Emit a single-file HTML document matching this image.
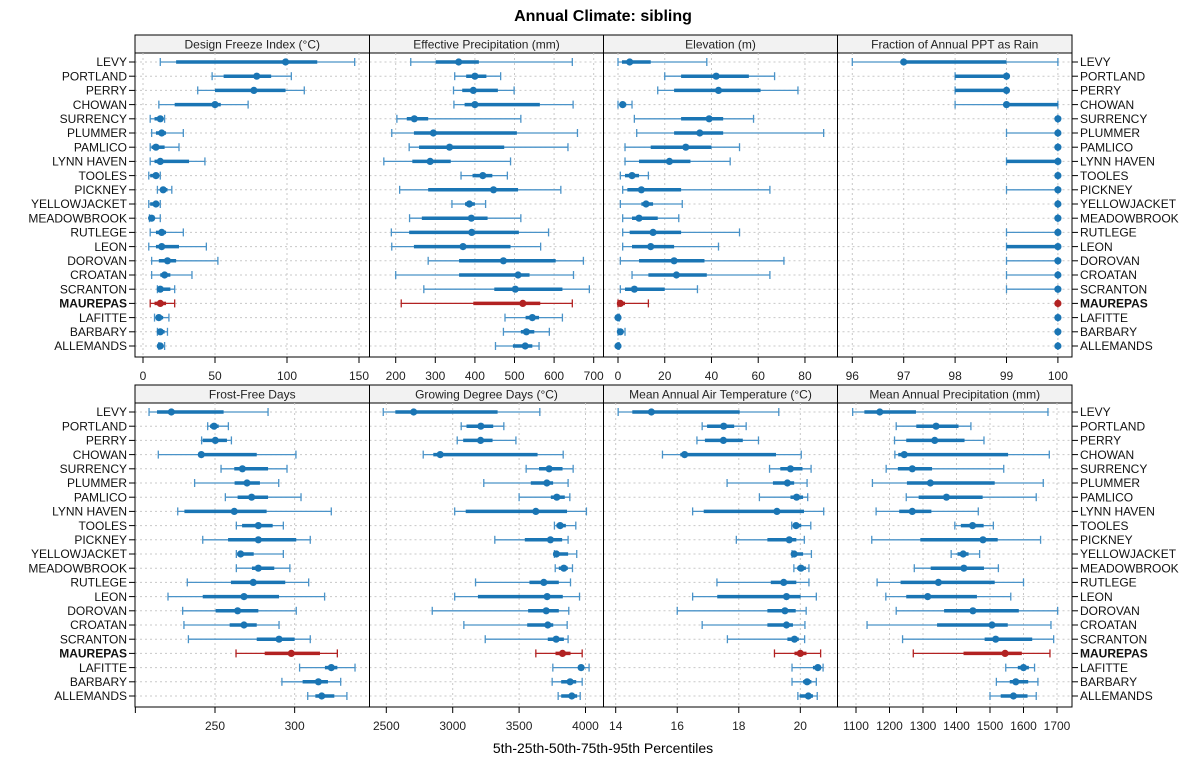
<!DOCTYPE html>
<html><head><meta charset="utf-8"><title>Annual Climate: sibling</title>
<style>
html,body{margin:0;padding:0;background:#fff;}
svg{display:block;font-family:"Liberation Sans",sans-serif;}
</style></head>
<body>
<svg id="chart" width="1200" height="775" viewBox="0 0 1200 775" xmlns="http://www.w3.org/2000/svg">
<text x="603" y="21" text-anchor="middle" font-size="16" font-weight="bold">Annual Climate: sibling</text>
<text x="603" y="753" text-anchor="middle" font-size="14">5th-25th-50th-75th-95th Percentiles</text>
<g id="plots"></g>
</svg>
<script>
const stations = ["LEVY","PORTLAND","PERRY","CHOWAN","SURRENCY","PLUMMER","PAMLICO","LYNN HAVEN","TOOLES","PICKNEY","YELLOWJACKET","MEADOWBROOK","RUTLEGE","LEON","DOROVAN","CROATAN","SCRANTON","MAUREPAS","LAFITTE","BARBARY","ALLEMANDS"];
const highlight = "MAUREPAS";

const dfi_p5  = [12,48,38,11,5,6,5,5,4,10,4,4.5,5,4,6,6,10,5,8,10,11];
const dfi_p25 = [23,56,50,22,8,9,6,8,5,12,5,5,9,9,11,12,11,8,9,11,11];
const dfi_p50 = [99,79,77,50,12,13,9,12,9,14,9,6,13,13,17,15,12,12,11,12,12];
const dfi_p75 = [121,89,99,54,13,16,15,32,11,17,11,7,16,25,23,19,19,16,14,15,14];
const dfi_p95 = [147,103,112,73,15,28,25,43,12,20,12,12,28,44,52,34,22,22,18,17,15];

const ep_p5  = [238,349,346,347,203,190,234,170,365,210,342,235,189,190,282,200,271,214,476,472,452];
const ep_p25 = [301,378,368,374,228,246,259,242,394,282,375,266,234,246,360,360,449,396,528,516,496];
const ep_p50 = [359,400,396,400,247,295,336,287,420,447,386,391,392,370,472,509,502,521,545,530,527];
const ep_p75 = [410,429,458,564,282,506,474,339,444,509,400,432,511,490,604,538,621,565,562,550,545];
const ep_p95 = [646,465,499,648,516,659,635,490,482,617,427,516,586,566,674,649,689,646,621,588,562];

const el_p5  = [0,20,17,0,7,8,3,3,1,2,1,2,2,2,1,6,1,0,0,0,0];
const el_p25 = [1.7,27,24,0.7,27,24,14,9,3,4,10,6,5,6,9,13,3,0.4,0,0.3,0];
const el_p50 = [5,42,43,2,39,35,29,22,6,10,12,9,15,14,24,25,7,1,0,1,0];
const el_p75 = [14,56,61,3.5,45,45,40,31,9,27,15,17,27,24,37,38,20,3,0.3,1.7,0.2];
const el_p95 = [38,67,77,6,58,88,52,48,13,65,27.5,26,52,43,71,65,34,13,0.6,3,0.5];

const fr_p5  = [96,98,98,98,100,99,100,99,100,99,100,100,99,99,99,99,99,100,100,100,100];
const fr_p25 = [97,98,98,99,100,100,100,99,100,100,100,100,100,99,100,100,100,100,100,100,100];
const fr_p50 = [97,99,99,99,100,100,100,100,100,100,100,100,100,100,100,100,100,100,100,100,100];
const fr_p75 = [99,99,99,100,100,100,100,100,100,100,100,100,100,100,100,100,100,100,100,100,100];
const fr_p95 = [100,99,99,100,100,100,100,100,100,100,100,100,100,100,100,100,100,100,100,100,100];

const ffd_p5  = [208.6,245.4,241.6,214.4,253.8,237.2,256.5,226.6,263.4,242.3,263.4,263.4,232.6,220.5,229.7,230.5,233.3,263.2,303.1,292,308.2];
const ffd_p25 = [213.6,246.9,242.3,239.5,262.1,262.3,264.2,230.8,267,258.2,264,273.2,260,242.3,250.4,259.2,276.2,281.2,319,305,313];
const ffd_p50 = [222.6,249.4,250.2,241.4,267.2,270.1,273,262.1,277.2,277.2,266.1,277.2,274,268.2,264.2,268.2,290.2,297.9,323,314.9,317];
const ffd_p75 = [255.4,252.3,257.5,276.2,283.3,278.2,283.3,282.4,286.2,301,274.3,287.2,294.1,290.2,277.2,276.2,300,315.9,326.8,320.9,324.9];
const ffd_p95 = [283.3,258.4,260.3,300.8,295.2,290,304,323,292.9,309.8,292.9,297,308.8,318.8,301,290.2,309.8,326.8,337.9,328.9,332.8];

const gdd_p5  = [2477,3064,3034,2778,3553,3234,3500,3015,3766,3317,3766,3772,3172,3015,2846,3084,3245,3626,3754,3749,3794];
const gdd_p25 = [2568,3104,3079,2854,3650,3588,3739,3098,3781,3543,3766,3799,3578,3190,3568,3561,3716,3774,3950,3817,3817];
const gdd_p50 = [2706,3212,3210,2906,3726,3709,3784,3626,3809,3736,3781,3837,3686,3711,3704,3716,3779,3827,3967,3884,3897];
const gdd_p75 = [3338,3305,3300,3639,3827,3756,3844,3861,3852,3824,3869,3867,3799,3829,3799,3757,3837,3887,3987,3930,3937];
const gdd_p95 = [3656,3385,3476,3832,3907,3869,3882,4007,3927,3869,3934,3902,3887,3955,3874,3862,3869,3975,4027,3975,3960];

const maat_p5  = [14.08,16.81,16.64,15.52,19.0,17.62,18.67,16.5,19.72,17.92,19.73,19.79,17.29,16.5,16.0,16.81,17.63,19.16,19.73,19.73,19.92];
const maat_p25 = [14.54,16.97,16.9,16.1,19.35,19.11,19.68,16.86,19.76,18.93,19.73,19.9,19.04,17.3,18.93,18.93,19.58,19.81,20.41,20.09,19.98];
const maat_p50 = [15.16,17.51,17.5,16.24,19.68,19.58,19.88,19.24,19.86,19.64,19.8,20.02,19.46,19.55,19.5,19.55,19.81,20.0,20.57,20.22,20.26];
const maat_p75 = [18.03,17.85,18.13,19.21,20.07,19.8,20.09,20.12,20.03,19.87,20.09,20.18,19.87,20.01,19.85,19.76,19.95,20.2,20.64,20.36,20.41];
const maat_p95 = [19.3,18.24,18.64,20.03,20.35,20.22,20.24,20.76,20.34,20.13,20.36,20.28,20.28,20.52,20.19,20.15,20.14,20.66,20.74,20.52,20.55];

const map_p5  = [1090,1220,1215,1216,1190,1149,1250,1160,1395,1147,1384,1274,1163,1189,1220,1133,1239,1271,1547,1519,1500];
const map_p25 = [1125,1280,1250,1226,1225,1252,1287,1229,1413,1292,1403,1323,1233,1250,1363,1342,1484,1421,1583,1559,1532];
const map_p50 = [1171,1339,1335,1244,1268,1322,1370,1268,1448,1479,1420,1422,1346,1314,1449,1506,1517,1545,1600,1577,1570];
const map_p75 = [1279,1406,1424,1554,1327,1514,1478,1325,1481,1523,1436,1482,1514,1461,1586,1553,1626,1595,1616,1614,1612];
const map_p95 = [1673,1443,1482,1677,1541,1659,1638,1465,1510,1651,1469,1525,1600,1562,1702,1682,1690,1679,1633,1643,1638];

const dfi_ticks=[0,50,100,150], ep_ticks=[200,300,400,500,600,700], el_ticks=[0,20,40,60,80], fr_ticks=[96,97,98,99,100];
const ffd_ticks=[200,250,300], ffd_labels=["","250","300"];
const gdd_ticks=[2500,3000,3500,4000], maat_ticks=[14,16,18,20], map_ticks=[1100,1200,1300,1400,1500,1600,1700];

const NS="http://www.w3.org/2000/svg";
const root=document.getElementById("plots");
function mk(tag,attrs,parent){const e=document.createElementNS(NS,tag);for(const k in attrs)e.setAttribute(k,attrs[k]);(parent||root).appendChild(e);return e;}

const panels=[
 {name:"design-freeze-index",title:"Design Freeze Index (°C)",x:135,w:234.5,top:35,v0:0,x0:143,k:1.44,d:[dfi_p5,dfi_p25,dfi_p50,dfi_p75,dfi_p95],ticks:dfi_ticks},
 {name:"effective-precipitation",title:"Effective Precipitation (mm)",x:369.5,w:234,top:35,v0:200,x0:395.7,k:0.396,d:[ep_p5,ep_p25,ep_p50,ep_p75,ep_p95],ticks:ep_ticks},
 {name:"elevation",title:"Elevation (m)",x:603.5,w:234,top:35,v0:0,x0:618,k:2.337,d:[el_p5,el_p25,el_p50,el_p75,el_p95],ticks:el_ticks},
 {name:"fraction-rain",title:"Fraction of Annual PPT as Rain",x:837.5,w:234.5,top:35,v0:96,x0:852.3,k:51.4,d:[fr_p5,fr_p25,fr_p50,fr_p75,fr_p95],ticks:fr_ticks},
 {name:"frost-free-days",title:"Frost-Free Days",x:135,w:234.5,top:385,v0:250,x0:215,k:1.593,d:[ffd_p5,ffd_p25,ffd_p50,ffd_p75,ffd_p95],ticks:ffd_ticks,labels:ffd_labels},
 {name:"growing-degree-days",title:"Growing Degree Days (°C)",x:369.5,w:234,top:385,v0:2500,x0:386.3,k:0.1328,d:[gdd_p5,gdd_p25,gdd_p50,gdd_p75,gdd_p95],ticks:gdd_ticks},
 {name:"mean-annual-air-temp",title:"Mean Annual Air Temperature (°C)",x:603.5,w:234,top:385,v0:14,x0:615.7,k:30.77,d:[maat_p5,maat_p25,maat_p50,maat_p75,maat_p95],ticks:maat_ticks},
 {name:"mean-annual-precip",title:"Mean Annual Precipitation (mm)",x:837.5,w:234.5,top:385,v0:1100,x0:856,k:0.335,d:[map_p5,map_p25,map_p50,map_p75,map_p95],ticks:map_ticks}
];
const STRIP=18, PH=322, ROW0=27, STEP=14.2;

panels.forEach(p=>{
  const g=mk("g",{});
  
  
  const sx=v=>p.x0+(v-p.v0)*p.k;
  const yOf=i=>p.top+ROW0+i*STEP;
  const strip=mk("rect",{x:p.x,y:p.top,width:p.w,height:STRIP,fill:"#f2f2f2",stroke:"#000","stroke-width":1},g);
  
  
  const st=mk("text",{x:p.x+p.w/2,y:p.top+13.5,"text-anchor":"middle","font-size":12,fill:"#222"},g);
  st.textContent=p.title;
  
  
  // grid
  stations.forEach((s,i)=>{
    const gl=mk("line",{x1:p.x,x2:p.x+p.w,y1:yOf(i),y2:yOf(i),stroke:"#c8c8c8","stroke-dasharray":"2,3","stroke-width":1},g);
    
    
  });
  p.ticks.forEach((t,j)=>{
    const x=sx(t);
    if(x>p.x+1&&x<p.x+p.w-1){
      const vl=mk("line",{x1:x,x2:x,y1:p.top+STRIP,y2:p.top+PH,stroke:"#c8c8c8","stroke-dasharray":"2,3","stroke-width":1},g);
      
      
    }
    const tk=mk("line",{x1:x,x2:x,y1:p.top+PH,y2:p.top+PH+6,stroke:"#000","stroke-width":1},g);
    
    
    const lab=p.labels?p.labels[j]:String(t);
    if(lab){
      const tl=mk("text",{x:x,y:p.top+PH+23,"text-anchor":"middle","font-size":12,fill:"#222"},g);
      tl.textContent=lab;
      
      
    }
  });
  // marks
  stations.forEach((s,i)=>{
    const y=yOf(i);
    const red=s===highlight;
    const c=red?"#b22222":"#1a75b4", cl=red?"#b22222":"#4a93c8";
    const v=p.d.map(a=>a[i]);
    const m=mk("g",{},g);
    
    
    mk("line",{x1:sx(v[0]),x2:sx(v[4]),y1:y,y2:y,stroke:cl,"stroke-width":1.3},m);
    mk("line",{x1:sx(v[0]),x2:sx(v[0]),y1:y-4,y2:y+4,stroke:cl,"stroke-width":1.3},m);
    mk("line",{x1:sx(v[4]),x2:sx(v[4]),y1:y-4,y2:y+4,stroke:cl,"stroke-width":1.3},m);
    mk("line",{x1:sx(v[1]),x2:sx(v[3]),y1:y,y2:y,stroke:c,"stroke-width":3.5},m);
    mk("circle",{cx:sx(v[2]),cy:y,r:3.6,fill:c},m);
  });
  const box=mk("rect",{x:p.x,y:p.top,width:p.w,height:PH,fill:"none",stroke:"#000","stroke-width":1},g);
  
  
});

// station labels
[35,385].forEach(top=>{
  stations.forEach((s,i)=>{
    const y=top+ROW0+i*STEP+4.2;
    const b=s===highlight?"bold":"normal";
    const l=mk("text",{x:127,y:y,"text-anchor":"end","font-size":12,"font-weight":b,fill:"#111"});
    l.textContent=s;
    
    
    const r=mk("text",{x:1080,y:y,"text-anchor":"start","font-size":12,"font-weight":b,fill:"#111"});
    r.textContent=s;
    
    
    [[135,129],[1072,1078]].forEach(([a,bx])=>{
      const t=mk("line",{x1:a,x2:bx,y1:y-4.2,y2:y-4.2,stroke:"#000","stroke-width":1});
      
      
    });
  });
});
</script>
</body></html>
